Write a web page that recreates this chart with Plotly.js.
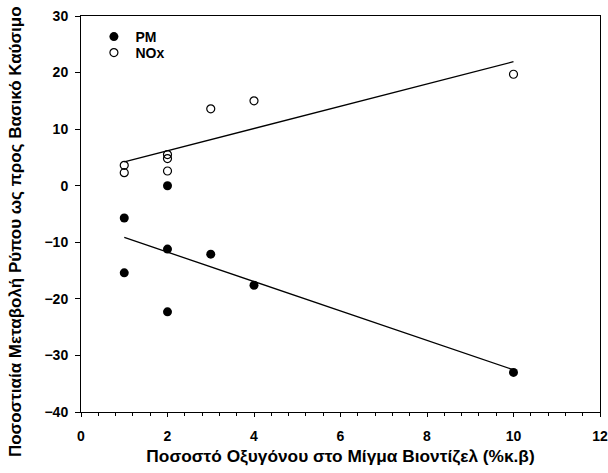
<!DOCTYPE html>
<html>
<head>
<meta charset="utf-8">
<script src="https://cdn.plot.ly/plotly-3.0.1.min.js"></script>
<style>html,body{margin:0;padding:0;background:#fff;}#chart{width:608px;height:473px;}</style>
</head>
<body>
<div id="chart"></div>
<script>
// Data
const pmX = [1, 1, 2, 2, 2, 3, 4, 10];
const pmY = [-5.7, -15.4, 0, -11.2, -22.3, -12.1, -17.6, -33.0];
const noxX = [1, 1, 2, 2, 2, 3, 4, 10];
const noxY = [3.6, 2.3, 5.5, 4.8, 2.6, 13.6, 15.0, 19.7];
const seriesNames = ['PM', 'NOx'];
const xTitle = 'Ποσοστό Οξυγόνου στο Μίγμα Βιοντίζελ (%κ.β)';
const yTitle = 'Ποσοστιαία Μεταβολή Ρύπου ως προς Βασικό Καύσιμο';

function fit(xs, ys) {
  const n = xs.length;
  const mx = xs.reduce((a, b) => a + b, 0) / n;
  const my = ys.reduce((a, b) => a + b, 0) / n;
  let sxy = 0, sxx = 0;
  for (let i = 0; i < n; i++) { sxy += (xs[i] - mx) * (ys[i] - my); sxx += (xs[i] - mx) ** 2; }
  const b = sxy / sxx, a = my - b * mx;
  const x0 = Math.min(...xs), x1 = Math.max(...xs);
  return { x: [x0, x1], y: [a + b * x0, a + b * x1] };
}
const pmFit = fit(pmX, pmY);
const noxFit = fit(noxX, noxY);

const fam = 'Liberation Sans, Arial, sans-serif';
const tickFont = { family: fam, size: 14, weight: 'bold', color: '#000' };
const legFont = { family: fam, size: 14, weight: 'bold', color: '#000' };

const traces = [
  { x: pmFit.x, y: pmFit.y, mode: 'lines', line: { color: '#000', width: 1.3 }, showlegend: false, hoverinfo: 'skip' },
  { x: noxFit.x, y: noxFit.y, mode: 'lines', line: { color: '#000', width: 1.3 }, showlegend: false, hoverinfo: 'skip' },
  { x: pmX, y: pmY, name: seriesNames[0], mode: 'markers', type: 'scatter', legend: 'legend',
    marker: { symbol: 'circle', size: 9, color: '#000', line: { width: 0 } } },
  { x: noxX, y: noxY, name: seriesNames[1], mode: 'markers', type: 'scatter', legend: 'legend2',
    marker: { symbol: 'circle-open', size: 8, color: '#000', line: { width: 1.2, color: '#000' } } }
];

const legBase = { xanchor: 'left', yanchor: 'middle', bgcolor: 'rgba(0,0,0,0)', font: legFont, borderwidth: 0, itemwidth: 33 };

const layout = {
  width: 608, height: 473,
  margin: { l: 81, r: 8, t: 16, b: 61 },
  paper_bgcolor: '#fff', plot_bgcolor: '#fff',
  font: { family: fam, color: '#000', size: 13, weight: 'bold' },
  showlegend: true,
  legend: Object.assign({}, legBase, { x: 0.022, y: 0.947 }),
  legend2: Object.assign({}, legBase, { x: 0.022, y: 0.9066 }),
  xaxis: {
    range: [0, 12], dtick: 2, tick0: 0, showgrid: false, zeroline: false,
    showline: true, linecolor: '#000', linewidth: 1, mirror: true,
    ticks: 'outside', ticklen: 4, tickwidth: 1, tickcolor: '#000',
    minor: { dtick: 0.4, ticks: 'outside', ticklen: 3, tickwidth: 1, tickcolor: '#000', showgrid: false },
    tickfont: tickFont, ticklabelstandoff: 7,
    title: { text: xTitle, font: { family: fam, size: 17.3, weight: 'bold', color: '#000' }, standoff: 7 }
  },
  yaxis: {
    range: [-40, 30], dtick: 10, showgrid: false, zeroline: false,
    showline: true, linecolor: '#000', linewidth: 1, mirror: true,
    ticks: 'outside', ticklen: 5, tickwidth: 1, tickcolor: '#000',
    tickfont: tickFont, ticklabelstandoff: 4
  },
  annotations: [{
    text: yTitle, textangle: -90, xref: 'paper', yref: 'paper',
    x: -0.127, y: 0.4545, xanchor: 'center', yanchor: 'middle', showarrow: false,
    font: { family: fam, size: 17, weight: 'bold', color: '#000' }
  }]
};

Plotly.newPlot('chart', traces, layout, { displayModeBar: false, staticPlot: true });
</script>
</body>
</html>
